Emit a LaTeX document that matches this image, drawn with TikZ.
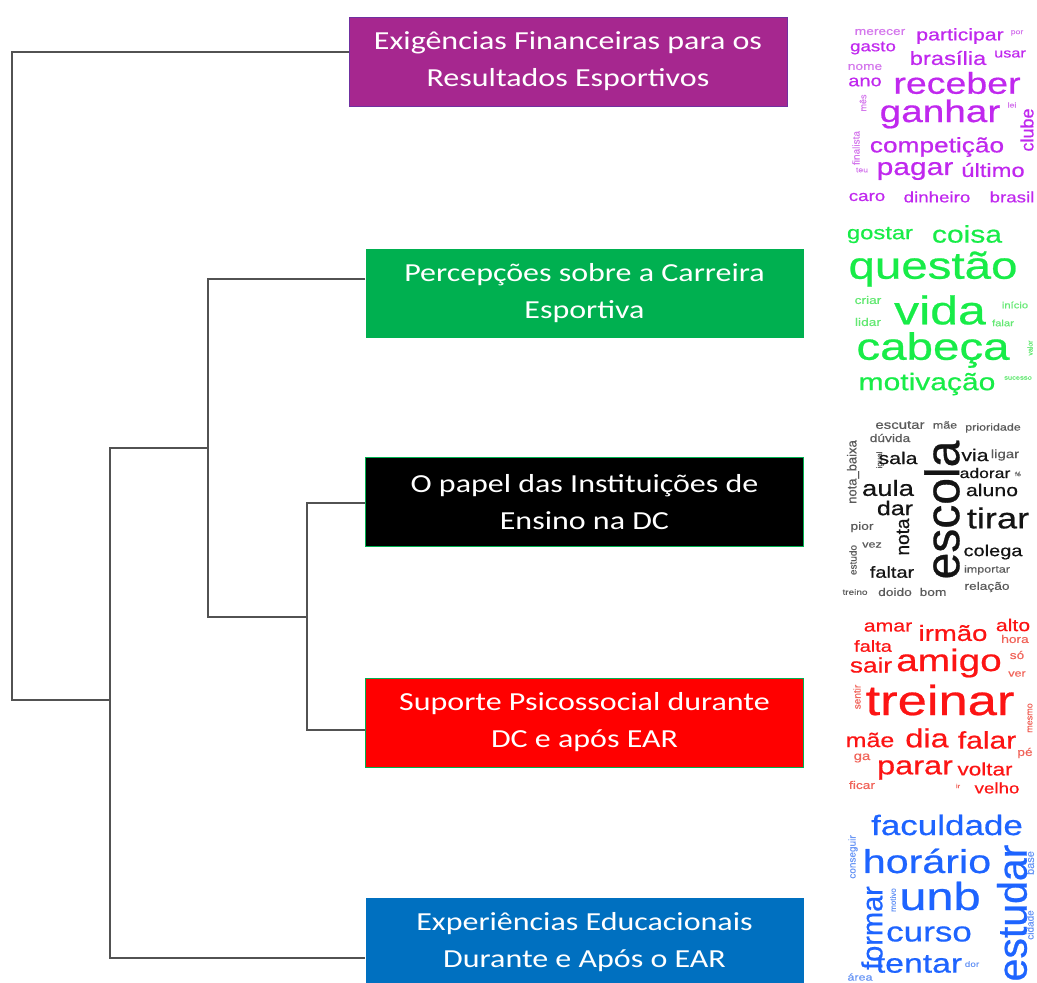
\documentclass[tikz,border=0pt]{standalone}
\usepackage{fontspec}
\usepackage{tikz}
\usetikzlibrary{positioning}

\newfontfamily\boxfont[FakeStretch=1.23]{Carlito}
\newfontfamily\cloudfont[FakeStretch=1.25,FakeBold=0.6]{Liberation Sans}
\newfontfamily\cloudvfont[FakeBold=0.6]{Liberation Sans}

\definecolor{efrfill}{RGB}{166,39,143}
\definecolor{efrline}{RGB}{112,48,160}
\definecolor{pcegreen}{RGB}{0,176,80}
\definecolor{edablue}{RGB}{0,112,192}
\definecolor{pcloud}{RGB}{192,40,238}
\definecolor{pcloudlt}{RGB}{212,120,236}
\definecolor{gcloud}{RGB}{24,236,72}
\definecolor{gcloudlt}{RGB}{100,232,115}
\definecolor{bcloud}{RGB}{20,20,20}
\definecolor{bcloudlt}{RGB}{90,90,90}
\definecolor{rcloud}{RGB}{252,20,20}
\definecolor{rcloudlt}{RGB}{240,100,90}
\definecolor{ucloud}{RGB}{30,100,255}
\definecolor{ucloudlt}{RGB}{105,150,245}

\begin{document}
\begin{tikzpicture}
[
	          x = 1pt,
	          y = -1pt,
	 tree/.style = { draw=black!68, line width=1.7pt },
	  box/.style = { minimum width=438pt, minimum height=89pt, inner sep=0pt,
	                 align=center, text=white, font=\boxfont\fontsize{26}{37}\selectfont },
	 word/.style = { inner sep=0pt, font=\cloudfont\fontsize{#1}{#1}\selectfont },
	vword/.style = { inner sep=0pt, rotate=90, font=\cloudvfont\fontsize{#1}{#1}\selectfont }
]
	\useasboundingbox (0,0) rectangle (1037,983);

	% categories
	\node (efr) at (568,61.5)  [box, fill=efrfill, draw=efrline, line width=0.8pt]
		{Exigências Financeiras para os\\Resultados Esportivos};
	\node (pce) at (584.5,293) [box, fill=pcegreen]
		{Percepções sobre a Carreira\\Esportiva};
	\node (ied) at (584.5,502) [box, fill=black, draw=pcegreen, line width=0.8pt]
		{O papel das Instituições de\\Ensino na DC};
	\node (spd) at (584.5,722.5) [box, fill=red, draw=pcegreen, line width=0.8pt]
		{Suporte Psicossocial durante\\DC e após EAR};
	\node (eda) at (584.5,942) [box, fill=edablue]
		{Experiências Educacionais\\Durante e Após o EAR};

	% dendrogram
	\coordinate (n0) at (12,700);
	\coordinate (n1) at (110,700);
	\coordinate (n2) at (208,448);
	\coordinate (n3) at (307,617);
	\draw [tree] ([yshift=9.5pt]efr.west) -| (n0) -- (n1);
	\draw [tree] (n2) -| (n1) |- ([yshift=-16pt]eda.west);
	\draw [tree] ([yshift=14pt]pce.west) -| (n2) |- (n3);
	\draw [tree] ([yshift=-1pt]ied.west) -| (n3) |- ([yshift=-7.5pt]spd.west);

	% cloud 1
	\node (p1)  at (880,32)   [word=11, pcloudlt]  {merecer};
	\node (p2)  at (960,36)   [word=17, pcloud]    {participar};
	\node (p3)  at (1017,33)  [word=7,  pcloudlt]  {por};
	\node (p4)  at (873,48)   [word=15, pcloud]    {gasto};
	\node (p5)  at (948,58)   [word=19, pcloud]    {brasília};
	\node (p6)  at (1010,54)  [word=13, pcloud]    {usar};
	\node (p7)  at (865,67)   [word=11, pcloudlt]  {nome};
	\node (p8)  at (865,82)   [word=16, pcloud]    {ano};
	\node (p9)  at (957,83)   [word=30, pcloud]    {receber};
	\node (p10) at (863,103)  [vword=9, pcloudlt]  {mês};
	\node (p11) at (940,114)  [word=31, pcloud]    {ganhar};
	\node (p12) at (1012,105) [word=7,  pcloudlt]  {lei};
	\node (p13) at (1027,130) [vword=18, pcloud]   {clube};
	\node (p14) at (856,148)  [vword=10, pcloudlt] {finalista};
	\node (p15) at (937,147)  [word=21, pcloud]    {competição};
	\node (p16) at (862,170)  [word=7,  pcloudlt]  {teu};
	\node (p17) at (915,171)  [word=24, pcloud]    {pagar};
	\node (p18) at (993,170)  [word=19, pcloud]    {último};
	\node (p19) at (867,197)  [word=15, pcloud]    {caro};
	\node (p20) at (937,197)  [word=15, pcloud]    {dinheiro};
	\node (p21) at (1012,197) [word=15, pcloud]    {brasil};

	% cloud 2
	\node (g1)  at (880,235)  [word=19, gcloud]    {gostar};
	\node (g2)  at (967,234)  [word=24, gcloud]    {coisa};
	\node (g3)  at (933,269)  [word=38, gcloud]    {questão};
	\node (g4)  at (868,300)  [word=11, gcloudlt]  {criar};
	\node (g5)  at (940,310)  [word=40, gcloud]    {vida};
	\node (g6)  at (1015,305) [word=9,  gcloudlt]  {início};
	\node (g7)  at (868,322)  [word=11, gcloudlt]  {lidar};
	\node (g8)  at (1003,323) [word=9,  gcloudlt]  {falar};
	\node (g9)  at (933,350)  [word=38, gcloud]    {cabeça};
	\node (g10) at (1030,348) [vword=7, gcloudlt]  {valor};
	\node (g11) at (927,384)  [word=24, gcloud]    {motivação};
	\node (g12) at (1018,378) [word=6,  gcloudlt]  {sucesso};

	% cloud 3
	\node (b1)  at (900,425)  [word=12, bcloudlt]  {escutar};
	\node (b2)  at (945,425)  [word=10, bcloudlt]  {mãe};
	\node (b3)  at (993,428)  [word=10, bcloudlt]  {prioridade};
	\node (b4)  at (853,472)  [vword=13, bcloudlt] {nota\_baixa};
	\node (b5)  at (890,438)  [word=11, bcloudlt]  {dúvida};
	\node (b6)  at (880,460)  [vword=8, bcloudlt]  {igual};
	\node (b7)  at (898,458)  [word=17, bcloud]    {sala};
	\node (b8)  at (942,510)  [vword=48, bcloud]   {escola};
	\node (b9)  at (975,455)  [word=17, bcloud]    {via};
	\node (b10) at (1005,455) [word=12, bcloudlt]  {ligar};
	\node (b11) at (985,473)  [word=14, bcloud]    {adorar};
	\node (b12) at (1018,474) [word=6,  bcloudlt]  {fé};
	\node (b13) at (888,488)  [word=22, bcloud]    {aula};
	\node (b14) at (992,490)  [word=17, bcloud]    {aluno};
	\node (b15) at (895,508)  [word=20, bcloud]    {dar};
	\node (b16) at (998,518)  [word=29, bcloud]    {tirar};
	\node (b17) at (903,537)  [vword=19, bcloud]   {nota};
	\node (b18) at (862,527)  [word=11, bcloudlt]  {pior};
	\node (b19) at (872,545)  [word=10, bcloudlt]  {vez};
	\node (b20) at (853,560)  [vword=10, bcloudlt] {estudo};
	\node (b21) at (993,552)  [word=16, bcloud]    {colega};
	\node (b22) at (892,572)  [word=16, bcloud]    {faltar};
	\node (b23) at (987,570)  [word=10, bcloudlt]  {importar};
	\node (b24) at (855,592)  [word=8,  bcloudlt]  {treino};
	\node (b25) at (895,592)  [word=11, bcloudlt]  {doido};
	\node (b26) at (933,592)  [word=11, bcloudlt]  {bom};
	\node (b27) at (987,587)  [word=11, bcloudlt]  {relação};

	% cloud 4
	\node (r1)  at (888,627)  [word=17, rcloud]    {amar};
	\node (r2)  at (953,633)  [word=22, rcloud]    {irmão};
	\node (r3)  at (1013,625) [word=17, rcloud]    {alto};
	\node (r4)  at (873,646)  [word=16, rcloud]    {falta};
	\node (r5)  at (1015,639) [word=11, rcloudlt]  {hora};
	\node (r6)  at (871,665)  [word=21, rcloud]    {sair};
	\node (r7)  at (949,663)  [word=31, rcloud]    {amigo};
	\node (r8)  at (1017,655) [word=11, rcloudlt]  {só};
	\node (r9)  at (1017,674) [word=10, rcloudlt]  {ver};
	\node (r10) at (857,697)  [vword=10, rcloudlt] {sentir};
	\node (r11) at (940,700)  [word=42, rcloud]    {treinar};
	\node (r12) at (1030,718) [vword=9, rcloudlt]  {mesmo};
	\node (r13) at (870,740)  [word=20, rcloud]    {mãe};
	\node (r14) at (927,738)  [word=26, rcloud]    {dia};
	\node (r15) at (987,740)  [word=24, rcloud]    {falar};
	\node (r16) at (1025,753) [word=11, rcloudlt]  {pé};
	\node (r17) at (862,758)  [word=12, rcloudlt]  {ga};
	\node (r18) at (915,770)  [word=26, rcloud]    {parar};
	\node (r19) at (985,769)  [word=18, rcloud]    {voltar};
	\node (r20) at (862,785)  [word=11, rcloudlt]  {ficar};
	\node (r21) at (958,786)  [word=6,  rcloudlt]  {ir};
	\node (r22) at (997,788)  [word=15, rcloud]    {velho};

	% cloud 5
	\node (u1)  at (947,825)  [word=28, ucloud]    {faculdade};
	\node (u2)  at (853,857)  [vword=10, ucloudlt] {conseguir};
	\node (u3)  at (927,861)  [word=33, ucloud]    {horário};
	\node (u4)  at (1030,863) [vword=11, ucloudlt] {base};
	\node (u5)  at (1012,913) [vword=41, ucloud]   {estudar};
	\node (u6)  at (893,900)  [vword=8, ucloudlt]  {motivo};
	\node (u7)  at (872,928)  [vword=29, ucloud]   {formar};
	\node (u8)  at (940,896)  [word=39, ucloud]    {unb};
	\node (u9)  at (1030,925) [vword=10, ucloudlt] {cidade};
	\node (u10) at (929,934)  [word=28, ucloud]    {curso};
	\node (u11) at (919,964)  [word=27, ucloud]    {tentar};
	\node (u12) at (972,964)  [word=8,  ucloudlt]  {dor};
	\node (u13) at (860,977)  [word=10, ucloudlt]  {área};
\end{tikzpicture}
\end{document}
